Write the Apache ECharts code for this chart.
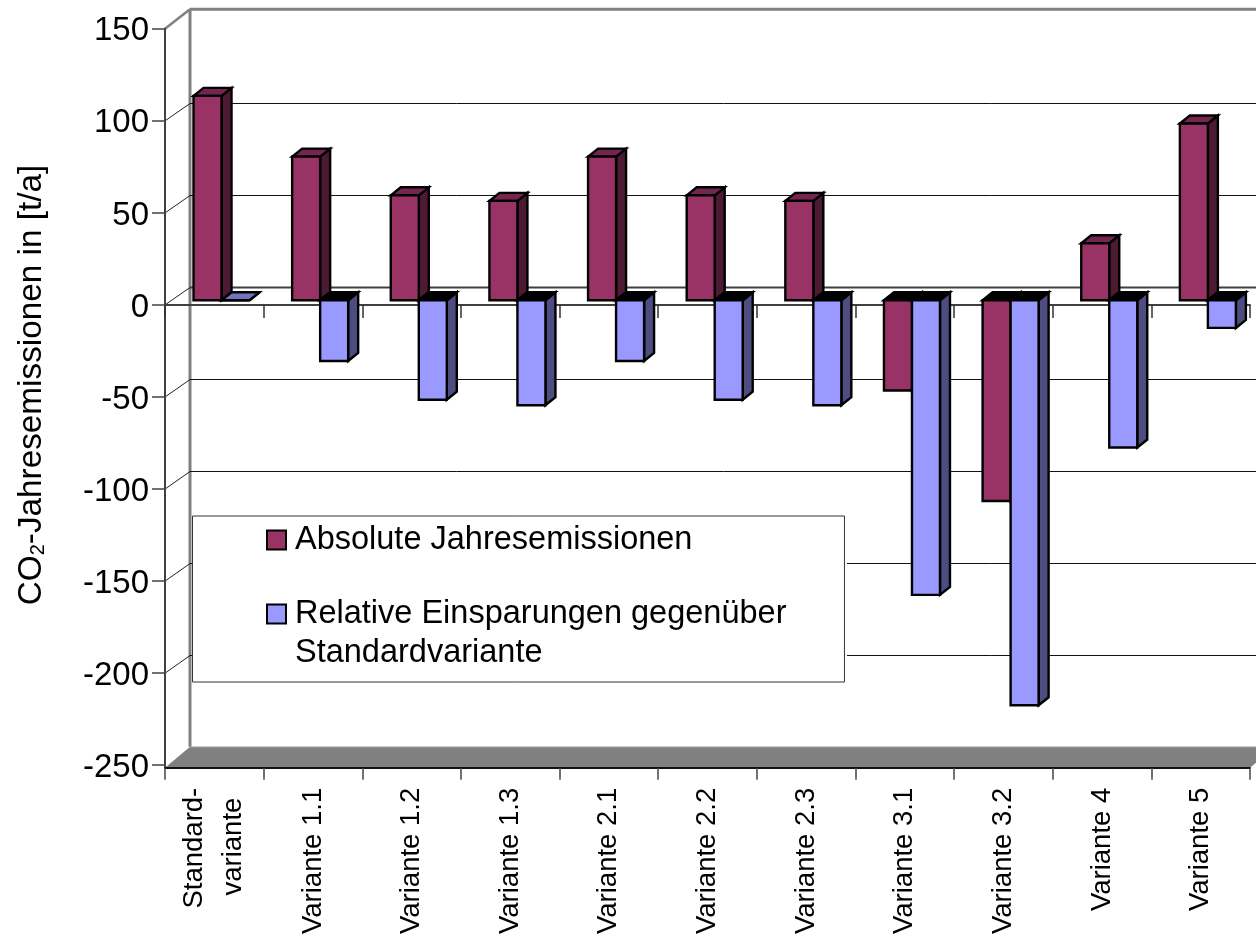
<!DOCTYPE html>
<html>
<head>
<meta charset="utf-8">
<style>html,body{margin:0;padding:0;background:#fff;overflow:hidden}#chart{width:1256px;height:937px}</style>
<script src="https://cdn.jsdelivr.net/npm/echarts@6/dist/echarts.min.js"></script>
</head>
<body>
<div id="chart"></div>
<script>
const categories = ['Standard-\nvariante', 'Variante 1.1', 'Variante 1.2', 'Variante 1.3', 'Variante 2.1',
  'Variante 2.2', 'Variante 2.3', 'Variante 3.1', 'Variante 3.2', 'Variante 4', 'Variante 5'];
const absoluteName = 'Absolute Jahresemissionen';
const relativeName = 'Relative Einsparungen gegenüber\nStandardvariante';
const absoluteEmissions = [111, 78, 57, 54, 78, 57, 54, -49, -109, 31, 96];
const relativeSavings = [0, -33, -54, -57, -33, -54, -57, -160, -220, -80, -15];
const wallTicks = [100, 50, 0, -50, -100, -150, -200];

// Pseudo-3D projection, in pixels: wall depth, bar inset from the front plane, bar depth.
const WALL_DX = 25, WALL_DY = -18, FLOOR_DY = -21;
const INSET_DX = 7.2, INSET_DY = -4.7;
const BAR_DX = 10, BAR_DY = -8;
const BAR_BAND_RATIO = 28 / 98.6;
const FONT = '"Liberation Sans", Arial, sans-serif';

const palette = {
  absolute: { front: '#993366', side: '#4d1a33', top: '#732650' },
  relative: { front: '#9999ff', side: '#4d4d80', top: '#7373bf' }
};

function poly(points, fill) {
  return {
    type: 'polygon',
    shape: { points },
    style: { fill, stroke: '#000', lineWidth: 2.4, lineJoin: 'miter' }
  };
}

// One box: front face, right side and cap; caps of downward bars are seen in shadow.
function barRenderer(colors, slot) {
  return function (params, api) {
    const i = api.value(0), v = api.value(1);
    const zero = api.coord([i, 0]), end = api.coord([i, v]);
    const w = api.size([1, 0])[0] * BAR_BAND_RATIO;
    const x0 = zero[0] + INSET_DX + (slot - 1) * w, x1 = x0 + w;
    const y0 = zero[1] + INSET_DY, yv = end[1] + INSET_DY;
    const top = Math.min(y0, yv), bottom = Math.max(y0, yv);
    const capFill = v < 0 ? '#000' : colors.top;
    return {
      type: 'group',
      children: [
        poly([[x1, top], [x1 + BAR_DX, top + BAR_DY], [x1 + BAR_DX, bottom + BAR_DY], [x1, bottom]], colors.side),
        poly([[x0, top], [x0 + BAR_DX, top + BAR_DY], [x1 + BAR_DX, top + BAR_DY], [x1, top]], capFill),
        poly([[x0, top], [x1, top], [x1, bottom], [x0, bottom]], colors.front)
      ]
    };
  };
}

// Back wall gridline with its short slanted run along the side wall.
function wallGridRenderer(params, api) {
  const v = api.value(0);
  const y = api.coord([0, v])[1];
  const backY = Math.round(y + WALL_DY) + 0.5;
  const cs = params.coordSys;
  const isZero = v === 0;
  return {
    type: 'group',
    children: [
      { type: 'line', shape: { x1: cs.x, y1: y, x2: cs.x + WALL_DX, y2: backY }, style: { stroke: '#222', lineWidth: 1 } },
      { type: 'line', shape: { x1: cs.x + WALL_DX, y1: backY, x2: cs.x + cs.width + WALL_DX, y2: backY },
        style: { stroke: isZero ? '#404040' : '#111', lineWidth: isZero ? 2 : 1 } }
    ]
  };
}

// Side wall, back wall edges and the floor slab.
function frameRenderer(params) {
  const cs = params.coordSys;
  const left = cs.x, right = cs.x + cs.width, top = cs.y, front = cs.y + cs.height + 2.5;
  const backX = left + WALL_DX, backTop = top - 19.5, floorBack = front + FLOOR_DY;
  return {
    type: 'group',
    children: [
      { type: 'polygon', shape: { points: [[left, front], [backX, floorBack], [right + WALL_DX, floorBack], [right, front]] },
        style: { fill: '#808080', stroke: null } },
      { type: 'line', shape: { x1: backX, y1: floorBack, x2: right + WALL_DX, y2: floorBack }, style: { stroke: '#c4c4c4', lineWidth: 1 } },
      { type: 'line', shape: { x1: backX, y1: backTop, x2: backX, y2: floorBack }, style: { stroke: '#808080', lineWidth: 3 } },
      { type: 'line', shape: { x1: backX, y1: backTop, x2: right + WALL_DX, y2: backTop }, style: { stroke: '#808080', lineWidth: 3 } },
      { type: 'line', shape: { x1: left, y1: top, x2: backX, y2: backTop }, style: { stroke: '#808080', lineWidth: 2.5 } },
      { type: 'line', shape: { x1: left, y1: cs.y + cs.height, x2: left, y2: front }, style: { stroke: '#404040', lineWidth: 2 } }
    ]
  };
}

const legendText = { fontFamily: FONT, fontSize: 32.5, color: '#000', lineHeight: 39, padding: [0, 0, 0, 4] };

const chart = echarts.init(document.getElementById('chart'), null, { renderer: 'canvas' });
chart.setOption({
  animation: false,
  backgroundColor: '#fff',
  textStyle: { fontFamily: FONT, color: '#000' },
  grid: { left: 165, right: 6, top: 28.8, bottom: 171.5, containLabel: false },
  legend: {
    left: 192.5, top: 516,
    orient: 'vertical',
    data: [
      { name: absoluteName, icon: 'rect', itemStyle: { color: palette.absolute.front, borderColor: '#000', borderWidth: 2 }, textStyle: legendText },
      { name: relativeName, icon: 'rect', itemStyle: { color: palette.relative.front, borderColor: '#000', borderWidth: 2 }, textStyle: legendText }
    ],
    // A blank leading line keeps the marker level with the first line of wrapped names.
    formatter: name => (name.includes('\n') ? '\n' + name : name),
    selectedMode: false,
    itemWidth: 19, itemHeight: 19, itemGap: -4,
    padding: [4.5, 58, 9.5, 73.5],
    backgroundColor: '#fff',
    borderColor: '#333', borderWidth: 1,
    shadowColor: '#fff', shadowBlur: 0, shadowOffsetX: 2
  },
  xAxis: [
    {
      type: 'category', data: categories, position: 'bottom', offset: 2.5, z: 2,
      axisLine: { onZero: false, lineStyle: { color: '#111', width: 2 } },
      axisTick: { show: true, interval: 0, length: 12, lineStyle: { color: '#444', width: 1.5 } },
      axisLabel: {
        rotate: 90, margin: 20, interval: 0, fontSize: 27.5, lineHeight: 39, color: '#000', fontFamily: FONT,
        // Wrapped labels: nudge the shorter second line toward the middle of the first.
        formatter: v => (v.includes('\n') ? v + ' \u200a' : v)
      }
    },
    {
      type: 'category', data: categories, position: 'bottom', z: 2,
      axisLine: { onZero: true, lineStyle: { color: '#404040', width: 2 } },
      axisTick: { show: true, interval: 0, length: 13, lineStyle: { color: '#333', width: 1.5 } },
      axisLabel: { show: false }
    }
  ],
  yAxis: {
    type: 'value', min: -250, max: 150, interval: 50, z: 2,
    name: '{a|CO}{s|2}{a|-Jahresemissionen in [t/a]}',
    nameLocation: 'middle', nameGap: 117, nameRotate: 90,
    nameTextStyle: {
      padding: [0, 0, 0, 24],
      rich: {
        a: { fontSize: 33.3, fontFamily: FONT, color: '#000' },
        s: { fontSize: 20, fontFamily: FONT, color: '#000', verticalAlign: 'bottom' }
      }
    },
    axisLine: { onZero: false, show: true, lineStyle: { color: '#404040', width: 2 } },
    axisTick: { show: true, length: 13, lineStyle: { color: '#444', width: 1.5 } },
    axisLabel: {
      margin: 16, color: '#000', fontFamily: FONT,
      formatter: '{n|{value}}',
      rich: { n: { fontSize: 33, fontFamily: FONT, color: '#000', padding: [5, 0, 0, 0] } }
    },
    splitLine: { show: false }
  },
  series: [
    { name: 'frame', type: 'custom', z: 1, silent: true, clip: false, renderItem: frameRenderer, data: [0] },
    { name: 'wall grid', type: 'custom', z: 1, silent: true, clip: false, renderItem: wallGridRenderer,
      encode: { y: 0 }, data: wallTicks.map(v => [v]) },
    { name: absoluteName, type: 'custom', z: 3, clip: false, renderItem: barRenderer(palette.absolute, 0),
      itemStyle: { color: palette.absolute.front }, encode: { x: 0, y: 1 },
      data: absoluteEmissions.map((v, i) => [i, v]) },
    { name: relativeName, type: 'custom', z: 4, clip: false, renderItem: barRenderer(palette.relative, 1),
      itemStyle: { color: palette.relative.front }, encode: { x: 0, y: 1 },
      data: relativeSavings.map((v, i) => [i, v]) }
  ]
});
</script>
</body>
</html>
